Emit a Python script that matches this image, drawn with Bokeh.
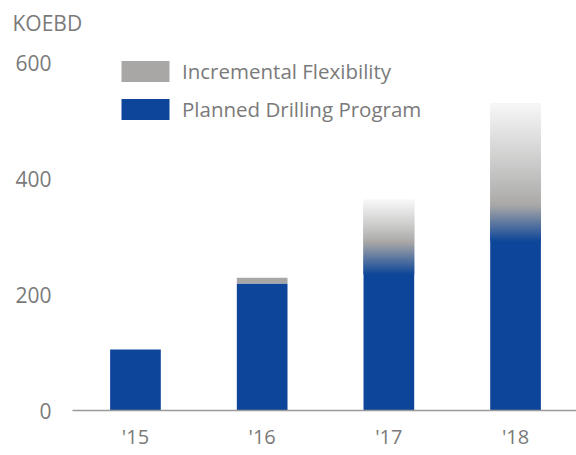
import numpy as np
from bokeh.plotting import figure
from bokeh.models import Range1d, FixedTicker, Legend, LegendItem, ColumnDataSource
from bokeh.embed import file_html
from bokeh.resources import INLINE

# ---- data ----
years = ["'15", "'16", "'17", "'18"]
planned = [105, 219, 262, 322]        # Planned Drilling Program (KOEBD)
total = [105, 229, 362, 530]          # Planned + Incremental Flexibility
y_ticks = [0, 200, 400, 600]

BLUE = (12, 69, 153)
GREY = (168, 167, 166)
WHITE = (247, 247, 247)
FONT = "Open Sans"
TXT = "#7a7a7a"

def hexc(c):
    return "#%02x%02x%02x" % tuple(int(round(v)) for v in c)

def mix(a, b, t):
    return tuple(a[i] + (b[i] - a[i]) * t for i in range(3))

xs = list(range(len(years)))
W = 0.4

p = figure(width=576, height=455, output_backend="svg", toolbar_location=None,
           x_range=Range1d(-0.497, 3.481), y_range=Range1d(0, 638),
           min_border_left=72, min_border_right=0, min_border_top=40, min_border_bottom=45)
p.outline_line_color = None
p.grid.visible = False

p.title.text = "KOEBD"
p.title.align = "left"
p.title.offset = -60
p.title.text_font = FONT
p.title.text_font_size = "21px"
p.title.text_font_style = "normal"
p.title.text_color = TXT
p.title.standoff = 8

# solid blue part and solid grey part (non-gradient bars), gradient slices
blue_top, grey_b, grey_t = [], [], []
gx, gb, gt, gc = [], [], [], []
for i, (pl, tot) in enumerate(zip(planned, total)):
    flex = tot - pl
    if flex < 50:
        blue_top.append(pl)
        grey_b.append(pl)
        grey_t.append(tot)
    else:
        h = 0.28 * flex if flex < 150 else 0.15 * flex
        h = min(h, 35)
        blue_top.append(pl - h + 2)
        grey_b.append(pl)
        grey_t.append(pl)
        # blend blue -> grey
        n = 30
        edges = np.linspace(pl - h, pl + h, n + 1)
        for k in range(n):
            t = (k + 0.5) / n
            gx.append(i); gb.append(edges[k]); gt.append(edges[k + 1] + 3)
            gc.append(hexc(mix(BLUE, GREY, t)))
        # grey -> white fade
        n2 = 60
        edges = np.linspace(pl + h, tot, n2 + 1)
        for k in range(n2):
            t = (k + 0.5) / n2
            top = edges[k + 1] + 3 if k < n2 - 1 else edges[k + 1]
            gx.append(i); gb.append(edges[k]); gt.append(top)
            gc.append(hexc(mix(GREY, WHITE, t ** 0.9)))

r_blue = p.vbar(x=xs, width=W, bottom=0, top=blue_top, fill_color=hexc(BLUE), line_color=None)
r_grey = p.vbar(x=xs, width=W, bottom=grey_b, top=grey_t, fill_color=hexc(GREY), line_color=None)
src = ColumnDataSource(dict(x=gx, b=gb, t=gt, c=gc))
p.vbar(x="x", width=W, bottom="b", top="t", fill_color="c", line_color=None, source=src)

# axes
p.xaxis.ticker = FixedTicker(ticks=xs)
p.xaxis.major_label_overrides = {i: y for i, y in enumerate(years)}
p.xaxis.axis_line_color = "#9a9a9a"
p.xaxis.axis_line_width = 1.5
p.xaxis.major_tick_line_color = None
p.xaxis.minor_tick_line_color = None
p.xaxis.major_tick_out = 0
p.xaxis.major_tick_in = 0
p.xaxis.major_label_standoff = 12
p.xaxis.major_label_text_font = FONT
p.xaxis.major_label_text_font_size = "20px"
p.xaxis.major_label_text_color = TXT

p.yaxis.ticker = FixedTicker(ticks=y_ticks)
p.yaxis.axis_line_color = None
p.yaxis.major_tick_line_color = None
p.yaxis.minor_tick_line_color = None
p.yaxis.major_tick_out = 0
p.yaxis.major_tick_in = 0
p.yaxis.major_label_standoff = 21
p.yaxis.major_label_text_font = FONT
p.yaxis.major_label_text_font_size = "21px"
p.yaxis.major_label_text_color = TXT

legend = Legend(items=[LegendItem(label="Incremental Flexibility", renderers=[r_grey]),
                       LegendItem(label="Planned Drilling Program", renderers=[r_blue])],
                location=(43, 287), orientation="vertical",
                glyph_width=60, glyph_height=26, spacing=10, padding=0, margin=0,
                label_standoff=7, label_text_font=FONT, label_text_font_size="20.5px",
                label_text_color=TXT, border_line_color=None, background_fill_alpha=0)
p.add_layout(legend)

open("out.html", "w").write(file_html(p, INLINE))
